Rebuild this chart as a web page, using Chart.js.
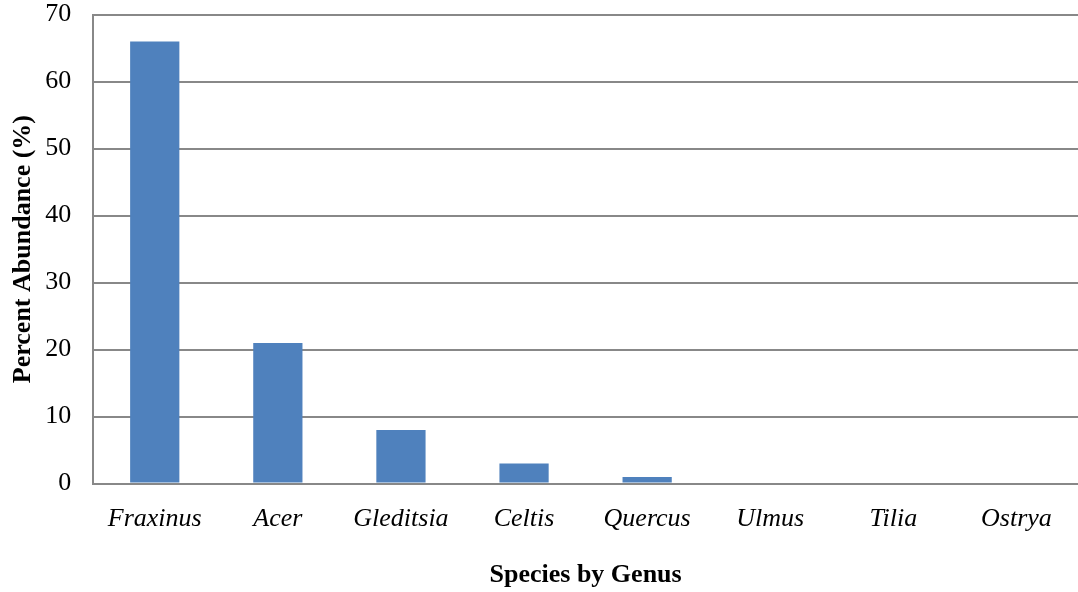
<!DOCTYPE html>
<html>
<head>
<meta charset="utf-8">
<script src="https://cdn.jsdelivr.net/npm/chart.js@4/dist/chart.umd.min.js"></script>
<style>
  body { margin: 0; background: #fff; overflow: hidden; }
  #wrap { width: 1078px; height: 615px; position: absolute; left: 0; top: -23px; }
</style>
</head>
<body>
<div id="wrap"><canvas id="genus-graph"></canvas></div>
<script>
const genera = ['Fraxinus', 'Acer', 'Gleditsia', 'Celtis', 'Quercus', 'Ulmus', 'Tilia', 'Ostrya'];
const abundance = [66, 21, 8, 3, 1, 0, 0, 0];
const yTicks = [0, 10, 20, 30, 40, 50, 60, 70];

function renderGenusGraph() {
    const ctx = document.getElementById('genus-graph').getContext('2d');
    new Chart(ctx, {
        type: 'bar',
        data: {
            labels: genera,
            datasets: [{
                label: 'Percent Abundance',
                data: abundance,
                backgroundColor: '#4f81bd',
                barPercentage: 0.4,
                categoryPercentage: 1.0
            }]
        },
        options: {
            responsive: true,
            maintainAspectRatio: false,
            animation: false,
            layout: { padding: { top: 0, right: 0, bottom: 1, left: 6 } },
            plugins: {
                legend: { display: false },
                tooltip: { enabled: false }
            },
            scales: {
                x: {
                    grid: { display: false, drawTicks: false },
                    border: { color: '#888888', width: 2 },
                    ticks: {
                        color: '#000',
                        padding: 20,
                        font: { family: 'Liberation Serif', size: 26, style: 'italic' }
                    },
                    title: {
                        display: true,
                        text: 'Species by Genus',
                        color: '#000',
                        padding: { top: 5, bottom: 0 },
                        font: { family: 'Liberation Serif', size: 26, weight: 'bold' }
                    }
                },
                y: {
                    min: 0,
                    max: 70,
                    afterBuildTicks: axis => { axis.ticks = yTicks.map(v => ({ value: v })); },
                    grid: { color: '#888888', lineWidth: 2, drawTicks: false },
                    border: { color: '#888888', width: 2 },
                    ticks: {
                        color: '#000',
                        padding: 22,
                        font: { family: 'Liberation Serif', size: 26 }
                    },
                    title: {
                        display: true,
                        text: 'Percent Abundance (%)',
                        color: '#000',
                        padding: { top: 2, bottom: -16 },
                        font: { family: 'Liberation Serif', size: 26, weight: 'bold' }
                    }
                }
            }
        }
    });
}

window.onload = renderGenusGraph;
</script>
</body>
</html>
